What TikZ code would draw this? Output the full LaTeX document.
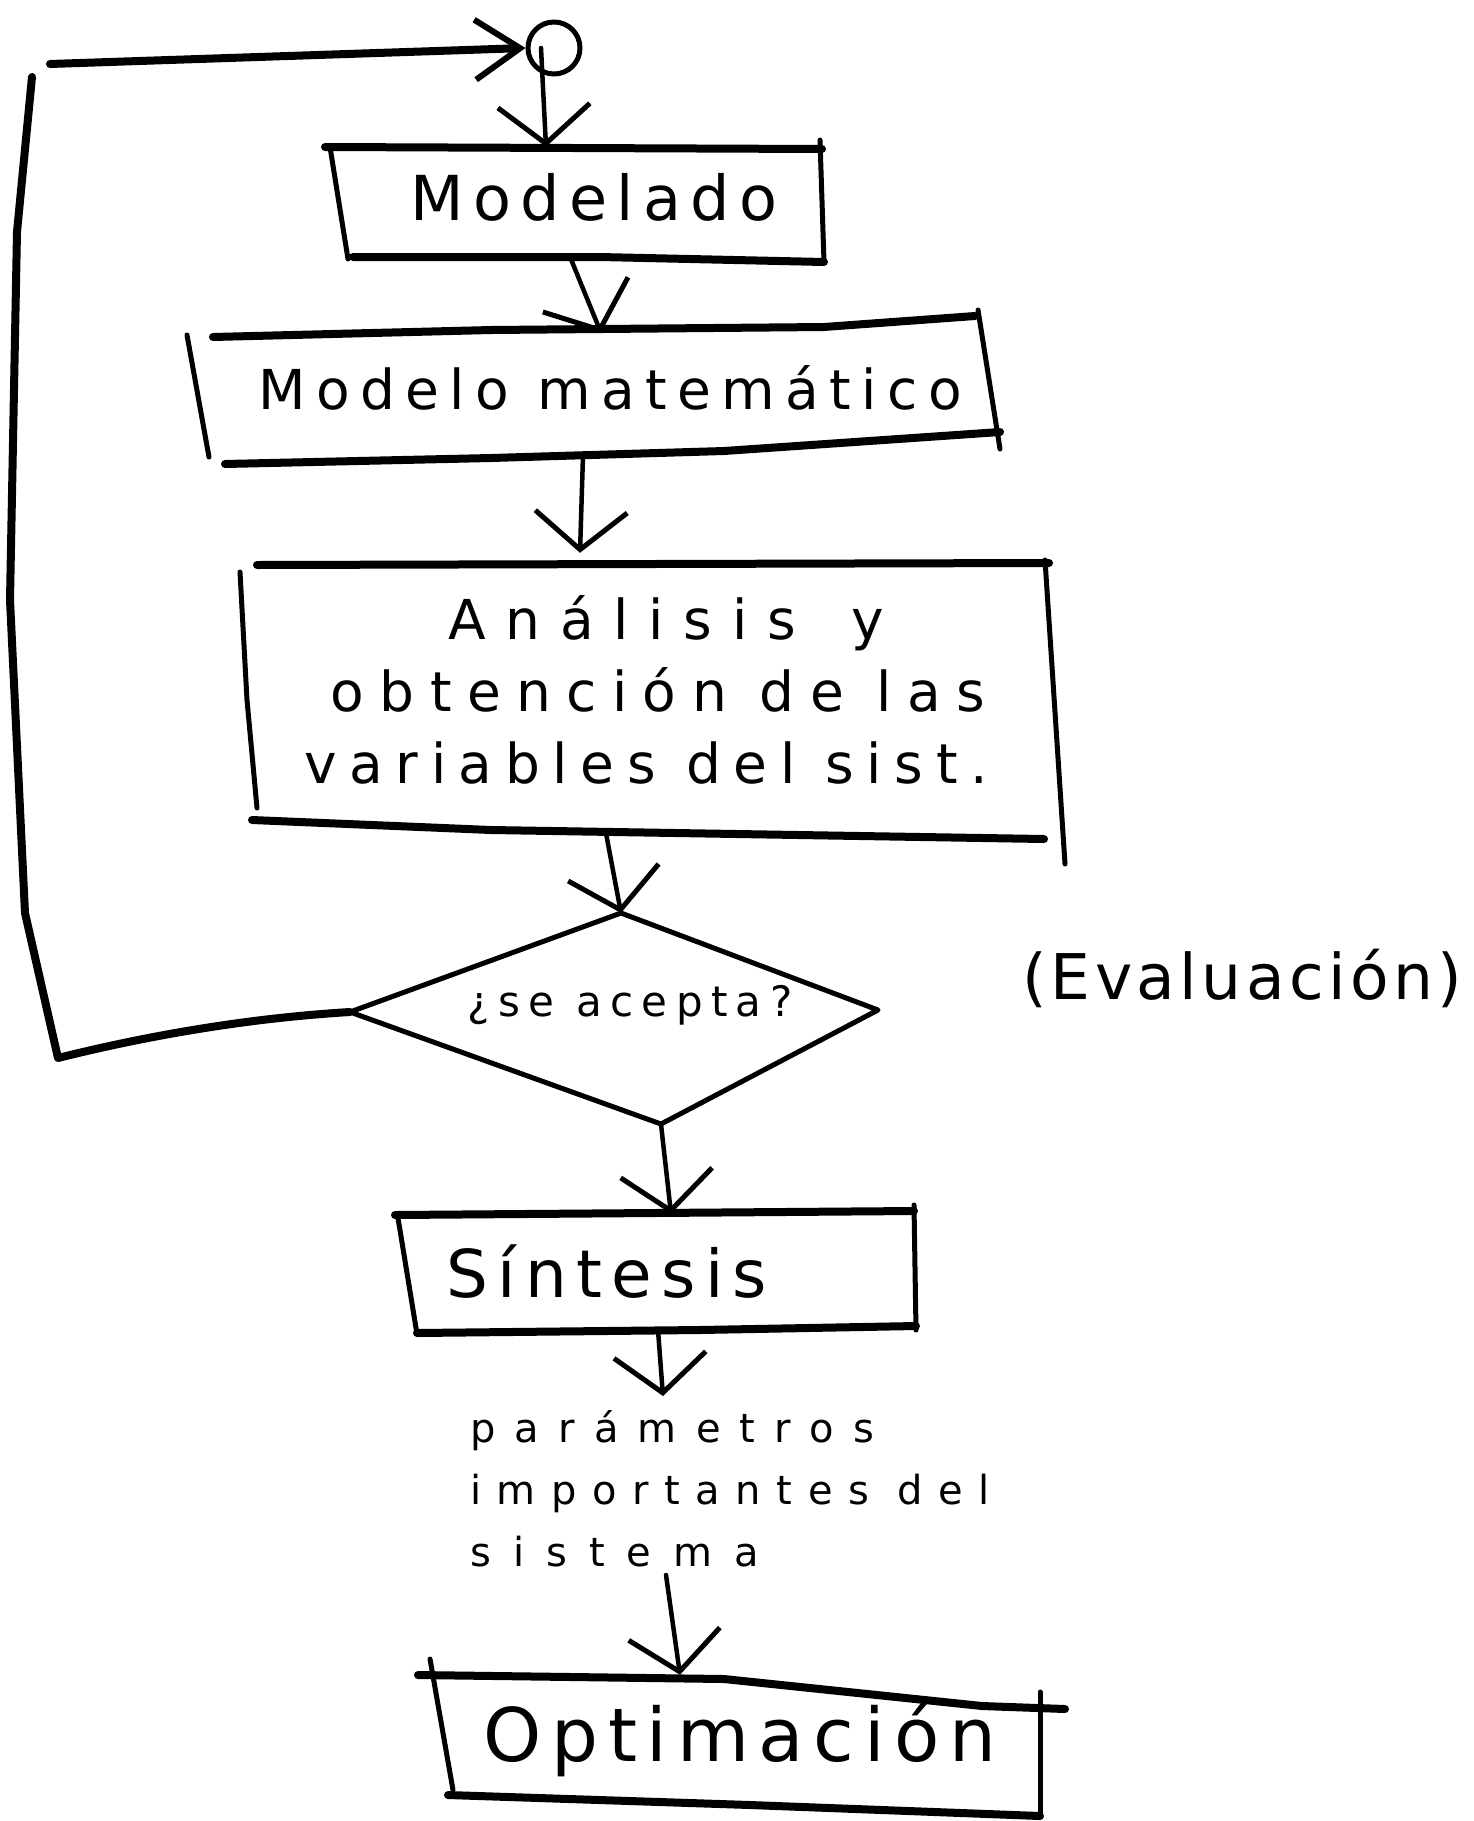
\documentclass[tikz,border=0pt]{standalone}
\usepackage{fontspec}
\setmainfont{DejaVu Sans}
\usetikzlibrary{arrows.meta,calc}
% size, baseline skip, letter spacing
\newcommand\hwfont[3]{\fontsize{#1}{#2}\selectfont\addfontfeature{LetterSpace=#3}}

\begin{document}
\begin{tikzpicture}[x=1pt,y=-1pt,
  box/.style={inner sep=0pt, align=center},
  edge/.style={line width=8pt, line cap=round, line join=round},
  side/.style={line width=5pt, line cap=round, line join=round},
  arr/.style={line width=4.5pt, line cap=round,
    -{Straight Barb[length=38pt,width=92pt,line width=5pt]}},
  looparr/.style={line width=8pt, line cap=round,
    -{Straight Barb[length=45pt,width=60pt,line width=6pt]}},
  loopline/.style={line width=8pt, line cap=round, line join=round}]

\fill[white] (0,0) rectangle (1473,1821);
\useasboundingbox (0,0) rectangle (1473,1821);

% ---------- nodes ----------
\node[circle, draw, line width=5pt, minimum size=52pt, inner sep=0pt] (jn) at (554,48) {};

\node[box, minimum width=494pt, minimum height=112pt] (mod) at (577,203)
  {\hwfont{62}{74}{15}\raisebox{12pt}{\hspace*{34pt}Modelado}};

\node[box, minimum width=810pt, minimum height=130pt] (mm) at (595,390)
  {\hwfont{55}{66}{19}\raisebox{5pt}{\hspace*{30pt}Modelo matemático}};

\node[box, minimum width=810pt, minimum height=270pt,
      font={\hwfont{55}{72}{19}}] (an) at (656,690)
  {{\addfontfeature{LetterSpace=36}\hspace*{20pt}Análisis\hspace{55pt}y}\\
   {\addfontfeature{LetterSpace=28}\hspace*{4pt}obtención de las}\\
   {\addfontfeature{LetterSpace=23}variables del sist.\hspace*{20pt}}};

\coordinate (dtop)   at (621,913);
\coordinate (dright) at (878,1010);
\coordinate (dbot)   at (661,1124);
\coordinate (dleft)  at (350,1012);
\node[box] (dec) at (630,1005) {\hwfont{42}{50}{20}¿se acepta?};

\node[box] (ev) at (1242,978) {\hwfont{63}{75}{7}(Evaluación)};

\node[box, minimum width=518pt, minimum height=116pt] (si) at (656,1272)
  {\hwfont{66}{78}{14}\hspace*{-98pt}Síntesis};

\node[inner sep=0pt, align=left, anchor=north west,
      font={\hwfont{40}{62}{48}}] (params) at (470,1410)
  {parámetros\\
   {\addfontfeature{LetterSpace=39}importantes del}\\
   {\addfontfeature{LetterSpace=55}sistema}};

\node[box, minimum width=620pt, minimum height=130pt] (opt) at (740,1740)
  {\hwfont{74}{88}{13}\raisebox{10pt}{Optimación}};

% ---------- box outlines ----------
% Modelado
\draw[side] (330,147) -- (348,259);
\draw[side] (820,140) -- (824,262);
\draw[edge] (325,147) -- (822,149);
\draw[edge] (353,257) -- (600,257) -- (824,262);
% Modelo matemático
\draw[side] (187,335) -- (209,457);
\draw[side] (978,310) -- (1000,449);
\draw[edge] (213,337) -- (491,330) -- (824,327) -- (975,316);
\draw[edge] (225,464) -- (491,458) -- (724,451) -- (1000,432);
% Análisis
\draw[side] (240,572) -- (247,700) -- (257,808);
\draw[side] (1045,560) -- (1065,864);
\draw[edge] (257,565) -- (1049,563);
\draw[edge] (252,820) -- (491,830) -- (1044,839);
% decision
\draw[side] (dtop) -- (dright) -- (dbot) -- (dleft) -- cycle;
% Síntesis
\draw[side] (398,1218) -- (417,1334);
\draw[side] (914,1205) -- (916,1330);
\draw[edge] (395,1215) -- (914,1211);
\draw[edge] (417,1333) -- (700,1330) -- (916,1326);
% Optimación
\draw[side] (430,1659) -- (453,1790);
\draw[side] (1040,1692) -- (1040,1816);
\draw[edge] (418,1675) -- (724,1679) -- (982,1706) -- (1065,1709);
\draw[edge] (448,1795) -- (750,1805) -- (1040,1816);

% ---------- connectors ----------
\draw[arr] ([xshift=-13pt]jn.center) -- ([xshift=-31pt]mod.north);
\draw[arr] ([xshift=-6pt]mod.south) -- ([xshift=6pt,yshift=-8pt]mm.north);
\draw[arr] ([xshift=-12pt]mm.south) -- ([xshift=-76pt,yshift=2pt]an.north);
\draw[arr] ([xshift=-50pt,yshift=-8pt]an.south) -- (dtop);
\draw[arr] (dbot) -- ([xshift=15pt]si.north);
\draw[arr] ([xshift=2pt]si.south) -- ($(params.north west)+(193,-14)$);
\draw[arr] ($(params.south west)+(196,8)$) -- ([xshift=-60pt]opt.north);

% feedback loop
\coordinate (lc1) at (58,1058);
\coordinate (lc2) at (25,913);
\coordinate (lc3) at (10,600);
\coordinate (lc4) at (17,232);
\coordinate (lc5) at (32,77);
\coordinate (lc6) at (50,64);
\draw[loopline] (dleft) .. controls (250,1018) and (150,1035) .. (lc1)
  -- (lc2) -- (lc3) -- (lc4) -- (lc5);
\draw[looparr] (lc6) -- (jn.west);
\end{tikzpicture}
\end{document}
